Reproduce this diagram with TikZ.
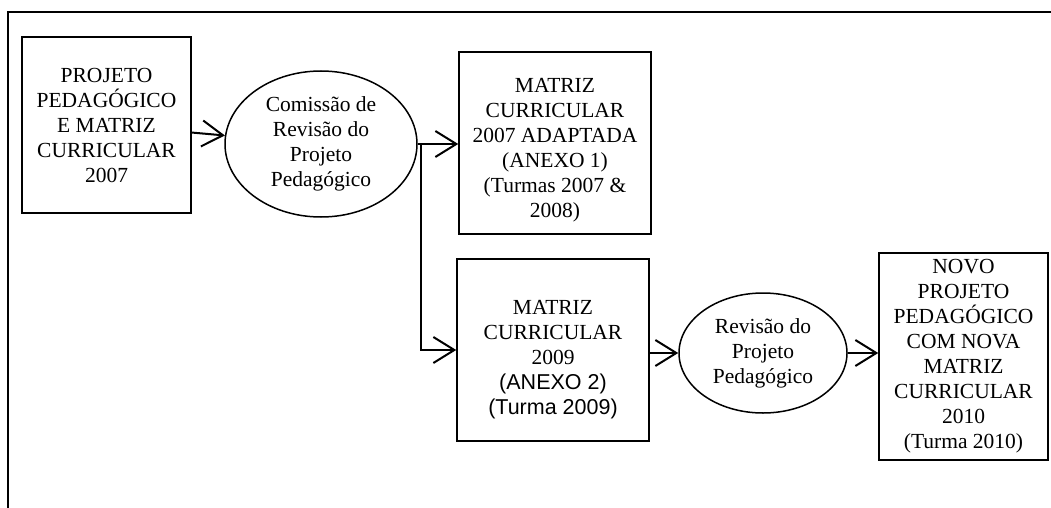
\documentclass[tikz,border=0pt]{standalone}
\usepackage{fontspec}
\setmainfont{Liberation Serif}
\newfontfamily\arialfont{Liberation Sans}
\usetikzlibrary{arrows.meta,calc,shapes.geometric}

\tikzset{
  box/.style={draw, line width=1.5pt, align=center, inner sep=2pt},
  oval/.style={draw, ellipse, line width=1.5pt, align=center, inner sep=0pt},
  txt/.style={align=center, inner sep=0pt},
  flow/.style={line width=2pt, -{Straight Barb[length=21pt,width=26pt,line width=2pt]}}
}

\begin{document}
\begin{tikzpicture}[x=1pt, y=-1pt, font=\fontsize{21.5}{25}\selectfont]
        \useasboundingbox (0,0) rectangle (1051,508);

        % Frame (top and left sides)
        \draw[line width=2pt] (1051,12) -- (8,12) -- (8,508);

        % Top row
        \node (P07) [box, minimum width=169pt, minimum height=176pt] at (106.5,125)
          {PROJETO\\PEDAGÓGICO\\E MATRIZ\\CURRICULAR\\2007};
        \node (Com) [oval, minimum width=192pt, minimum height=146pt] at (321,144)
          {Comissão de\\Revisão do\\Projeto\\Pedagógico};
        \node (M07) [box, minimum width=192pt, minimum height=182pt,
          label={[txt, yshift=-7pt]center:{MATRIZ\\CURRICULAR\\2007 ADAPTADA\\(ANEXO 1)\\(Turmas 2007 \&\\2008)}}]
          at (555,143) {};

        % Bottom row
        \node (M09) [box, minimum width=192pt, minimum height=182pt,
          label={[txt, yshift=-10pt]center:{MATRIZ\\CURRICULAR\\2009\\{\arialfont(ANEXO 2)}\\{\arialfont(Turma 2009)}}}]
          at (553,350) {};
        \node (Rev) [oval, minimum width=168pt, minimum height=120pt] at (763,353)
          {Revisão do\\Projeto\\Pedagógico};
        \node (P10) [box, minimum width=169pt, minimum height=207pt] at (963.5,356.5)
          {NOVO\\PROJETO\\PEDAGÓGICO\\COM NOVA\\MATRIZ\\CURRICULAR\\2010\\(Turma 2010)};

        % Split point after the commission
        \coordinate (split) at ($(Com.east)+(3,0)$);

        % Arrows
        \draw[flow] (P07) -- (Com);
        \draw[flow] (Com.east) -- (M07.west |- Com.east);
        \draw[flow] (split) |- (M09.west);
        \draw[flow] (M09.east |- Rev.west) -- (Rev.west);
        \draw[flow] (Rev.east) -- (P10.west |- Rev.east);

        \end{tikzpicture}
\end{document}
